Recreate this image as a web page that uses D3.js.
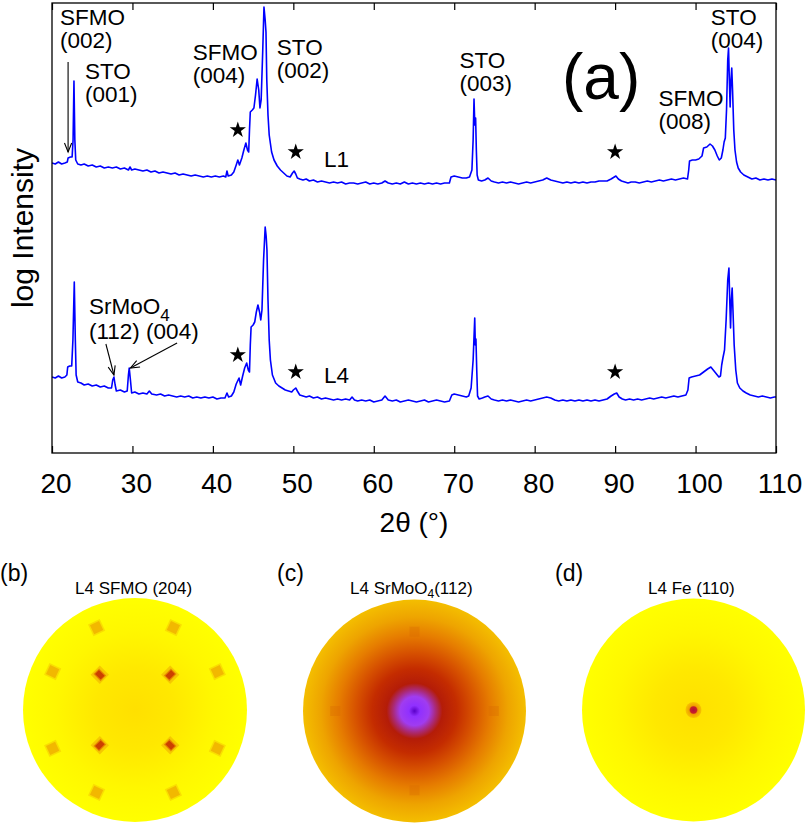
<!DOCTYPE html>
<html>
<head>
<meta charset="utf-8">
<script src="https://cdn.jsdelivr.net/npm/d3@7"></script>
<style>
  body { margin: 0; background: #fff; }
  svg { display: block; }
  text { font-family: "Liberation Sans", Arial, Helvetica, sans-serif; fill: #000; }
</style>
</head>
<body>
<svg id="fig" width="807" height="825"></svg>
<script>
// ---- theta-2theta scans: [2theta (deg), log intensity (arb. units)] ----
const scanL1 = [
  [20.0,5.80],[20.4,5.78],[20.8,5.82],[21.2,5.78],[21.6,5.80],[21.9,5.82],[22.0,5.90],[22.3,5.92],[22.5,5.92],
  [22.62,6.26],[22.73,7.44],[22.84,6.26],[22.95,5.86],[23.2,5.78],[23.6,5.76],[24.0,5.78],[24.5,5.74],[25.0,5.76],
  [25.5,5.72],[26.0,5.74],[26.5,5.70],[27.0,5.72],[27.5,5.70],[28.0,5.72],[28.5,5.68],[29.0,5.70],[29.5,5.66],
  [29.7,5.72],[29.9,5.66],[30.3,5.68],[30.8,5.66],[31.3,5.64],[31.8,5.66],[32.3,5.62],[32.8,5.64],[33.3,5.60],
  [33.8,5.62],[34.3,5.60],[34.8,5.58],[35.3,5.60],[35.8,5.56],[36.3,5.58],[36.8,5.56],[37.3,5.54],[37.8,5.56],
  [38.3,5.54],[38.8,5.52],[39.3,5.54],[39.8,5.52],[40.3,5.54],[40.8,5.52],[41.3,5.54],[41.6,5.52],[41.75,5.64],
  [41.9,5.54],[42.3,5.56],[42.6,5.62],[42.9,5.76],[43.1,5.86],[43.3,5.76],[43.6,5.90],[43.85,6.06],[44.1,6.20],
  [44.3,6.06],[44.45,6.02],[44.55,6.46],[44.65,6.82],[44.9,6.86],[45.1,6.90],[45.3,7.16],[45.5,7.48],[45.7,7.26],
  [45.85,6.90],[46.0,7.06],[46.2,8.06],[46.35,8.92],[46.5,8.66],[46.6,8.42],[46.7,7.46],[46.85,6.76],[47.0,6.36],
  [47.3,6.02],[47.6,5.86],[48.0,5.74],[48.4,5.66],[48.8,5.60],[49.2,5.54],[49.6,5.52],[49.9,5.60],[50.1,5.64],
  [50.3,5.58],[50.5,5.50],[50.8,5.48],[51.2,5.46],[51.6,5.48],[52.0,5.44],[52.5,5.46],[53.0,5.42],[53.5,5.44],
  [54.0,5.42],[54.5,5.40],[55.0,5.42],[55.5,5.40],[56.0,5.42],[56.5,5.38],[57.0,5.40],[57.5,5.40],[58.0,5.38],
  [58.5,5.40],[59.0,5.42],[59.5,5.38],[60.0,5.40],[60.5,5.38],[61.0,5.40],[61.4,5.44],[61.8,5.40],[62.3,5.38],
  [62.8,5.40],[63.3,5.38],[63.8,5.42],[64.3,5.38],[64.8,5.40],[65.3,5.38],[65.8,5.40],[66.3,5.38],[66.8,5.40],
  [67.3,5.38],[67.8,5.40],[68.3,5.38],[68.8,5.40],[69.4,5.40],[69.6,5.52],[70.0,5.54],[70.5,5.52],[71.0,5.50],
  [71.5,5.50],[71.9,5.52],[72.2,5.66],[72.35,6.26],[72.46,7.08],[72.56,6.56],[72.66,6.70],[72.75,6.06],[72.85,5.56],
  [73.0,5.46],[73.4,5.44],[73.8,5.46],[74.2,5.50],[74.6,5.44],[75.0,5.42],[75.5,5.40],[76.0,5.42],[76.5,5.40],
  [77.0,5.42],[77.5,5.40],[78.0,5.38],[78.5,5.40],[79.0,5.42],[79.5,5.40],[80.0,5.42],[80.5,5.44],[81.0,5.46],
  [81.5,5.50],[82.0,5.46],[82.5,5.44],[83.0,5.42],[83.5,5.40],[84.0,5.42],[84.5,5.40],[85.0,5.42],[85.5,5.40],
  [86.0,5.42],[86.5,5.40],[87.0,5.42],[87.5,5.42],[88.0,5.44],[88.5,5.44],[89.0,5.44],[89.5,5.48],[89.9,5.52],
  [90.1,5.54],[90.4,5.48],[90.8,5.44],[91.2,5.42],[91.6,5.40],[92.0,5.42],[92.5,5.42],[93.0,5.40],[93.5,5.42],
  [94.0,5.44],[94.5,5.42],[95.0,5.44],[95.5,5.46],[96.0,5.44],[96.5,5.46],[97.0,5.48],[97.5,5.46],[98.0,5.48],
  [98.5,5.50],[99.0,5.48],[99.15,5.66],[99.25,5.84],[99.6,5.86],[100.0,5.86],[100.4,5.88],[100.8,5.94],[101.0,6.10],
  [101.4,6.12],[101.8,6.18],[102.1,6.14],[102.4,6.06],[102.7,5.94],[102.95,5.86],[103.2,5.90],[103.4,6.06],
  [103.55,6.22],[103.7,6.30],[103.85,6.86],[104.0,7.86],[104.1,8.10],[104.2,7.46],[104.3,6.92],[104.4,7.46],
  [104.5,7.70],[104.6,7.26],[104.75,6.46],[104.9,6.06],[105.1,5.82],[105.3,5.70],[105.6,5.62],[106.0,5.56],
  [106.5,5.52],[107.0,5.48],[107.5,5.50],[108.0,5.46],[108.5,5.48],[109.0,5.46],[109.5,5.48],[110.0,5.46]
];

const scanL4 = [
  [20.0,1.52],[20.4,1.50],[20.8,1.54],[21.2,1.50],[21.6,1.52],[21.85,1.56],[21.95,1.72],[22.2,1.74],[22.45,1.74],
  [22.6,2.26],[22.77,3.42],[22.9,2.26],[23.0,1.56],[23.2,1.42],[23.6,1.40],[24.0,1.36],[24.5,1.38],[25.0,1.34],
  [25.5,1.36],[26.0,1.32],[26.5,1.34],[27.0,1.30],[27.4,1.30],[27.55,1.46],[27.7,1.52],[27.85,1.36],[28.0,1.24],
  [28.5,1.26],[29.0,1.22],[29.35,1.24],[29.5,1.56],[29.6,1.70],[29.75,1.46],[29.9,1.20],[30.3,1.22],[30.8,1.18],
  [31.3,1.20],[31.8,1.18],[32.1,1.24],[32.4,1.18],[33.0,1.16],[33.5,1.18],[34.0,1.14],[34.5,1.16],[35.0,1.14],
  [35.5,1.12],[36.0,1.14],[36.5,1.12],[37.0,1.14],[37.5,1.10],[38.0,1.12],[38.5,1.10],[39.0,1.12],[39.5,1.10],
  [40.0,1.12],[40.5,1.08],[41.0,1.10],[41.5,1.10],[41.75,1.20],[41.95,1.12],[42.3,1.14],[42.6,1.22],[42.9,1.38],
  [43.25,1.50],[43.45,1.36],[43.7,1.54],[43.95,1.70],[44.2,1.80],[44.4,1.66],[44.55,1.62],[44.65,2.16],[44.75,2.52],
  [45.0,2.56],[45.2,2.62],[45.4,2.82],[45.6,2.96],[45.8,2.82],[45.95,2.66],[46.1,2.86],[46.3,3.86],[46.5,4.52],
  [46.62,4.34],[46.72,4.06],[46.85,3.06],[47.0,2.26],[47.15,1.86],[47.4,1.56],[47.8,1.40],[48.2,1.34],[48.6,1.30],
  [49.0,1.26],[49.4,1.24],[49.8,1.22],[50.0,1.26],[50.3,1.30],[50.5,1.24],[50.8,1.16],[51.2,1.14],[51.6,1.12],
  [52.0,1.14],[52.5,1.10],[53.0,1.12],[53.5,1.08],[54.0,1.10],[54.5,1.08],[55.0,1.06],[55.5,1.08],[56.0,1.06],
  [56.5,1.08],[57.0,1.06],[57.3,1.12],[57.6,1.06],[58.0,1.04],[58.5,1.06],[59.0,1.04],[59.5,1.06],[60.0,1.02],
  [60.5,1.04],[61.0,1.06],[61.4,1.14],[61.8,1.06],[62.3,1.04],[62.8,1.06],[63.3,1.02],[63.8,1.04],[64.3,1.06],
  [64.8,1.04],[65.3,1.02],[65.8,1.04],[66.3,1.06],[66.8,1.02],[67.3,1.04],[67.8,1.06],[68.3,1.04],[68.8,1.02],
  [69.4,1.04],[69.7,1.16],[70.0,1.18],[70.5,1.16],[71.0,1.14],[71.5,1.12],[71.8,1.14],[72.1,1.30],[72.35,1.86],
  [72.55,2.70],[72.62,2.16],[72.7,2.28],[72.8,1.66],[72.9,1.14],[73.1,1.08],[73.5,1.10],[73.8,1.12],[74.2,1.14],
  [74.6,1.08],[75.0,1.06],[75.5,1.04],[76.0,1.06],[76.5,1.04],[77.0,1.06],[77.5,1.04],[78.0,1.02],[78.5,1.04],
  [79.0,1.06],[79.5,1.04],[80.0,1.06],[80.5,1.08],[81.0,1.10],[81.5,1.12],[82.0,1.10],[82.5,1.06],[83.0,1.04],
  [83.5,1.06],[84.0,1.04],[84.5,1.06],[85.0,1.04],[85.5,1.06],[86.0,1.04],[86.5,1.06],[87.0,1.04],[87.5,1.06],
  [88.0,1.04],[88.5,1.06],[89.0,1.08],[89.5,1.14],[89.9,1.18],[90.2,1.20],[90.5,1.12],[90.9,1.08],[91.3,1.06],
  [91.8,1.08],[92.3,1.06],[92.8,1.08],[93.3,1.06],[93.8,1.08],[94.3,1.10],[94.8,1.08],[95.3,1.10],[95.8,1.12],
  [96.3,1.10],[96.8,1.12],[97.3,1.14],[97.8,1.12],[98.3,1.14],[98.8,1.16],[99.05,1.26],[99.2,1.50],[99.5,1.52],
  [100.0,1.54],[100.5,1.56],[101.0,1.62],[101.5,1.68],[101.9,1.72],[102.2,1.66],[102.6,1.58],[102.9,1.52],
  [103.1,1.54],[103.25,1.76],[103.4,1.90],[103.6,2.06],[103.8,2.66],[104.0,3.46],[104.15,3.70],[104.25,3.06],
  [104.35,2.50],[104.45,3.06],[104.55,3.30],[104.65,2.86],[104.8,2.16],[105.0,1.66],[105.2,1.40],[105.5,1.30],
  [105.9,1.24],[106.3,1.20],[106.8,1.16],[107.3,1.14],[107.8,1.12],[108.3,1.14],[108.8,1.12],[109.3,1.10],
  [109.8,1.12],[110.0,1.12]
];

const xTickValues = [20, 30, 40, 50, 60, 70, 80, 90, 100, 110];

// Reflection labels: text lines and anchor [2theta, log I]
const peakLabels = [
  { lines: ["SFMO", "(002)"], at: [21.0, 8.56] },
  { lines: ["STO", "(001)"],  at: [24.1, 7.48] },
  { lines: ["SFMO", "(004)"], at: [37.5, 7.86] },
  { lines: ["STO", "(002)"],  at: [47.95, 7.96] },
  { lines: ["STO", "(003)"],  at: [70.65, 7.70] },
  { lines: ["SFMO", "(008)"], at: [95.4, 6.94] },
  { lines: ["STO", "(004)"],  at: [101.9, 8.56] }
];
const sampleLabels = [
  { text: "L1", at: [53.8, 5.72] },
  { text: "L4", at: [53.8, 1.40] }
];
// Impurity reflections marked with a star [2theta, log I]
const starMarks = [
  [43.1, 6.46], [50.3, 6.02], [90.0, 6.02],
  [43.1, 1.96], [50.3, 1.62], [90.0, 1.62]
];
// Arrows: [from, to] in [2theta, log I]
const arrows = [
  [[22.0, 7.82], [22.0, 6.02]],
  [[26.7, 2.18], [27.7, 1.56]],
  [[35.55, 2.20], [29.75, 1.70]]
];

// ---- pole figures: spots given as azimuth phi and tilt psi (deg) ----
const poleSFMO204 = [
  { phi: 25, psi: 73, kind: "outer" }, { phi: 65, psi: 73, kind: "outer" },
  { phi: 115, psi: 73, kind: "outer" }, { phi: 155, psi: 73, kind: "outer" },
  { phi: 205, psi: 73, kind: "outer" }, { phi: 245, psi: 73, kind: "outer" },
  { phi: 295, psi: 73, kind: "outer" }, { phi: 335, psi: 73, kind: "outer" },
  { phi: 45, psi: 40, kind: "inner" }, { phi: 135, psi: 40, kind: "inner" },
  { phi: 225, psi: 40, kind: "inner" }, { phi: 315, psi: 40, kind: "inner" }
];
const poleSrMoO4 = [
  { phi: 0, psi: 64 }, { phi: 90, psi: 64 }, { phi: 180, psi: 64 }, { phi: 270, psi: 64 }
];
const poleFe110 = [ { phi: 0, psi: 0 } ];

const svg = d3.select("#fig");

// ================= panel (a) =================
const plot = { left: 52, right: 776, top: 3, bottom: 453 };
const x = d3.scaleLinear().domain([20, 110]).range([plot.left, plot.right]);
const y = d3.scaleLinear().domain([0, 9]).range([plot.bottom, plot.top]);

const defs = svg.append("defs");
defs.append("clipPath").attr("id", "plotClip")
  .append("rect").attr("x", plot.left).attr("y", plot.top)
  .attr("width", plot.right - plot.left).attr("height", plot.bottom - plot.top);

defs.append("marker")
  .attr("id", "openHead").attr("viewBox", "-10 -5 12 10")
  .attr("refX", 0).attr("refY", 0)
  .attr("markerWidth", 12).attr("markerHeight", 10)
  .attr("markerUnits", "userSpaceOnUse").attr("orient", "auto")
  .append("path").attr("d", "M-9,-3.6L0,0L-9,3.6")
  .attr("fill", "none").attr("stroke", "#000").attr("stroke-width", 1.1);

const line = d3.line().x(d => x(d[0])).y(d => y(d[1]));

const curves = svg.append("g").attr("clip-path", "url(#plotClip)");
[scanL1, scanL4].forEach(scan => {
  curves.append("path").datum(scan)
    .attr("d", line)
    .attr("fill", "none").attr("stroke", "#0000ff")
    .attr("stroke-width", 1.6).attr("stroke-linejoin", "round");
});

// frame
svg.append("rect")
  .attr("x", plot.left).attr("y", plot.top)
  .attr("width", plot.right - plot.left).attr("height", plot.bottom - plot.top)
  .attr("fill", "none").attr("stroke", "#000").attr("stroke-width", 1.3);

// inward ticks on bottom and top
const bottomAxis = d3.axisBottom(x).tickValues(xTickValues).tickSizeInner(-7).tickSizeOuter(0).tickFormat("");
const topAxis = d3.axisTop(x).tickValues(xTickValues).tickSizeInner(-7).tickSizeOuter(0).tickFormat("");
const gB = svg.append("g").attr("transform", `translate(0,${plot.bottom})`).call(bottomAxis);
const gT = svg.append("g").attr("transform", `translate(0,${plot.top})`).call(topAxis);
[gB, gT].forEach(g => {
  g.select(".domain").remove();
  g.selectAll(".tick line").attr("stroke", "#000").attr("stroke-width", 1.2);
});

// tick labels
svg.append("g").selectAll("text").data(xTickValues).join("text")
  .attr("x", d => x(d) + 4).attr("y", 493)
  .attr("text-anchor", "middle").attr("font-size", 28)
  .text(d => d);

// axis titles
svg.append("text")
  .attr("x", (plot.left + plot.right) / 2).attr("y", 532)
  .attr("text-anchor", "middle").attr("font-size", 28)
  .text("2θ (°)");
svg.append("text")
  .attr("transform", `translate(33,${(plot.top + plot.bottom) / 2}) rotate(-90)`)
  .attr("text-anchor", "middle").attr("font-size", 30)
  .text("log Intensity");

// reflection labels
const labG = svg.append("g").attr("font-size", 22.5);
peakLabels.forEach(l => {
  const t = labG.append("text").attr("x", x(l.at[0])).attr("y", y(l.at[1]));
  l.lines.forEach((s, i) => {
    t.append("tspan").attr("x", x(l.at[0])).attr("dy", i === 0 ? 0 : 23).text(s);
  });
});
sampleLabels.forEach(l => {
  labG.append("text").attr("x", x(l.at[0])).attr("y", y(l.at[1])).text(l.text);
});

// SrMoO4 labels with subscript
const sr = labG.append("text").attr("x", x(24.6)).attr("y", y(2.78));
sr.append("tspan").text("SrMoO");
sr.append("tspan").attr("font-size", 17).attr("dy", 7).text("4");
labG.append("text").attr("x", x(24.6)).attr("y", y(2.28)).text("(112) (004)");

// panel letter
svg.append("text").attr("x", x(83.4)).attr("y", y(7.08))
  .attr("font-size", 64).text("(a)");

// stars
svg.append("g").selectAll("path").data(starMarks).join("path")
  .attr("transform", d => `translate(${x(d[0])},${y(d[1])})`)
  .attr("d", d3.symbol(d3.symbolStar).size(82))
  .attr("fill", "#000");

// arrows
svg.append("g").selectAll("line").data(arrows).join("line")
  .attr("x1", d => x(d[0][0])).attr("y1", d => y(d[0][1]))
  .attr("x2", d => x(d[1][0])).attr("y2", d => y(d[1][1]))
  .attr("stroke", "#000").attr("stroke-width", 1.1)
  .attr("marker-end", "url(#openHead)");

// ================= pole figures (b)-(d) =================
const psiScale = d3.scaleLinear().domain([0, 90]);

function gradient(id, stops) {
  const g = defs.append("radialGradient").attr("id", id)
    .attr("cx", "50%").attr("cy", "50%").attr("r", "50%");
  stops.forEach(s => g.append("stop").attr("offset", s[0]).attr("stop-color", s[1]));
}
gradient("gradYellow", [["0%", "#ffe000"], ["35%", "#ffe800"], ["70%", "#fff700"], ["100%", "#ffff00"]]);
gradient("gradSrMo", [
  ["0%", "#5a00c8"], ["5%", "#9030ff"], ["13%", "#a03cf0"], ["19%", "#aa2a78"],
  ["25%", "#b41c08"], ["38%", "#c42c00"], ["52%", "#d65000"], ["68%", "#e67c00"],
  ["84%", "#eea400"], ["100%", "#f4be00"]
]);
gradient("gradFe", [["0%", "#b0103c"], ["40%", "#c82028"], ["55%", "#f0a000"], ["100%", "#f8c400"]]);

function poleFigure(cx, cy, r, fill, letter, letterX, titleParts, titleX) {
  const g = svg.append("g");
  g.append("text").attr("x", letterX).attr("y", 581).attr("font-size", 23).text(letter);
  const t = g.append("text").attr("x", titleX).attr("y", 594).attr("font-size", 17);
  titleParts.forEach(p => {
    const sp = t.append("tspan").text(p.text);
    if (p.sub) sp.attr("font-size", 12).attr("dy", 4);
    if (p.after) sp.attr("dy", -4);
  });
  g.append("circle").attr("cx", cx).attr("cy", cy).attr("r", r).attr("fill", fill);
  const rs = psiScale.copy().range([0, r]);
  const pos = d => {
    const a = d.phi * Math.PI / 180, rr = rs(d.psi);
    return [cx + rr * Math.cos(a), cy - rr * Math.sin(a)];
  };
  return { g, pos };
}

// (b) SFMO (204)
const pb = poleFigure(135, 710, 112, "url(#gradYellow)", "(b)", 0,
  [{ text: "L4 SFMO (204)" }], 75);
pb.g.selectAll("g.spot").data(poleSFMO204).join("g")
  .attr("transform", d => { const p = pb.pos(d); return `translate(${p[0]},${p[1]}) rotate(${-d.phi})`; })
  .each(function(d) {
    const s = d3.select(this);
    if (d.kind === "outer") {
      s.append("rect").attr("x", -6.5).attr("y", -6.5).attr("width", 13).attr("height", 13)
        .attr("fill", "#f8d800").attr("opacity", 0.8);
      s.append("rect").attr("x", -5).attr("y", -5).attr("width", 10).attr("height", 10)
        .attr("fill", "#f2b800");
    } else {
      s.append("rect").attr("x", -6.5).attr("y", -6.5).attr("width", 13).attr("height", 13)
        .attr("fill", "#f6c800");
      s.append("rect").attr("x", -5).attr("y", -4).attr("width", 10).attr("height", 8)
        .attr("fill", "#e88800");
      s.append("rect").attr("x", -4).attr("y", -2.8).attr("width", 8).attr("height", 5.6)
        .attr("fill", "#cc4000");
    }
  });

// (c) SrMoO4 (112)
const pc = poleFigure(414.5, 711, 111.5, "url(#gradSrMo)", "(c)", 277,
  [{ text: "L4 SrMoO" }, { text: "4", sub: true }, { text: "(112)", after: true }], 350);
pc.g.selectAll("rect.spot").data(poleSrMoO4).join("rect")
  .attr("x", d => pc.pos(d)[0] - 5).attr("y", d => pc.pos(d)[1] - 5)
  .attr("width", 10).attr("height", 10)
  .attr("fill", "#d86800").attr("opacity", 0.3);

// (d) Fe (110)
const pd = poleFigure(693.5, 710, 111.5, "url(#gradYellow)", "(d)", 555,
  [{ text: "L4 Fe (110)" }], 648);
pd.g.selectAll("circle.spot").data(poleFe110).join("circle")
  .attr("cx", d => pd.pos(d)[0]).attr("cy", d => pd.pos(d)[1])
  .attr("r", 8).attr("fill", "url(#gradFe)");
</script>
</body>
</html>
